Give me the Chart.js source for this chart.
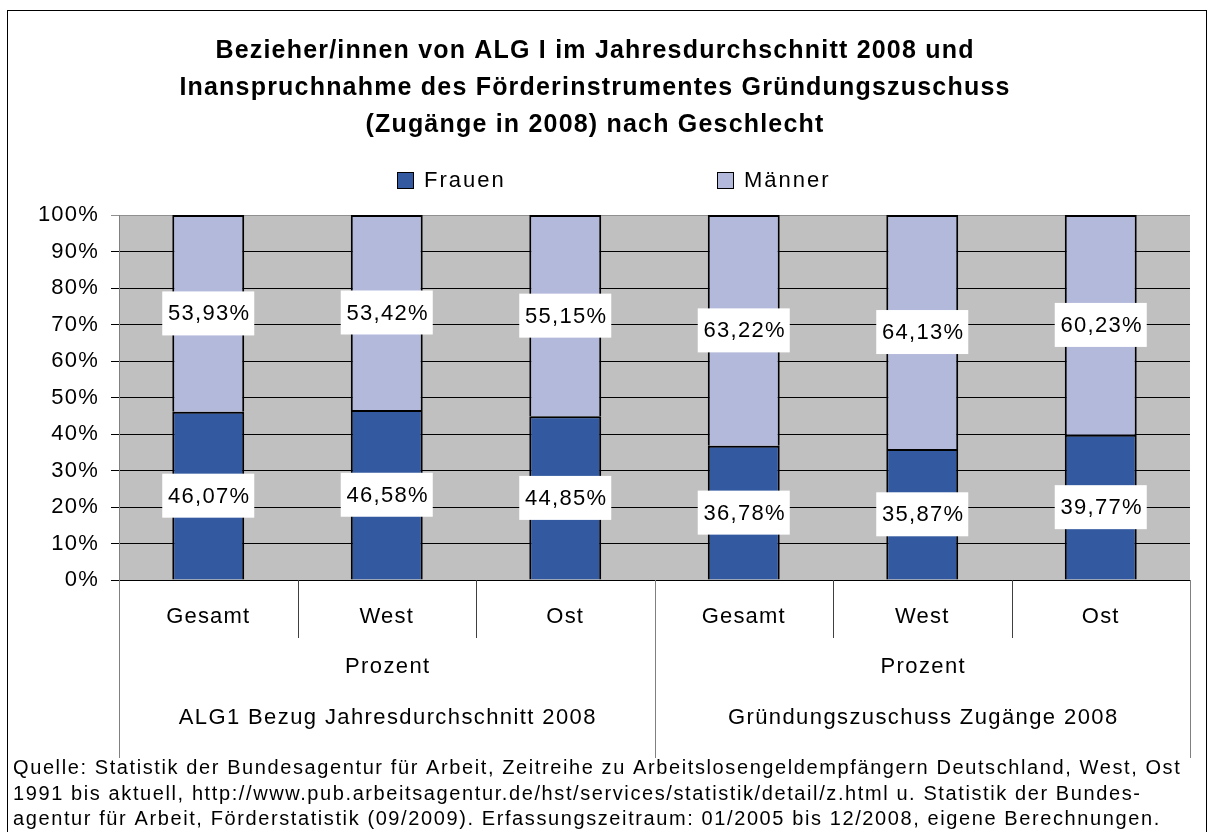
<!DOCTYPE html>
<html>
<head>
<meta charset="utf-8">
<title>ALG I und Gründungszuschuss nach Geschlecht</title>
<script src="https://cdn.jsdelivr.net/npm/chart.js@4"></script>
<style>
  html, body { margin: 0; padding: 0; background: #fff; }
  body { width: 1208px; height: 832px; overflow: hidden; position: relative; }
  #chart { position: absolute; left: 0; top: 0; }
  #frame { position: absolute; left: 7px; top: 10px; width: 1198px; height: 840px;
           border: 1px solid #000; pointer-events: none; }
</style>
</head>
<body>
<canvas id="chart" width="1208" height="832"></canvas>
<div id="frame"></div>
<script>
// data
const categories = ['Gesamt', 'West', 'Ost', 'Gesamt', 'West', 'Ost'];
const groupLabels = ['ALG1 Bezug Jahresdurchschnitt 2008', 'Gründungszuschuss Zugänge 2008'];
const groupUnit = 'Prozent';
const frauen = [46.07, 46.58, 44.85, 36.78, 35.87, 39.77];
const maenner = [53.93, 53.42, 55.15, 63.22, 64.13, 60.23];
const yMax = 100;
const yStep = 10;

const titleLines = [
    'Bezieher/innen von ALG I im Jahresdurchschnitt 2008 und',
    'Inanspruchnahme des Förderinstrumentes Gründungszuschuss',
    '(Zugänge in 2008) nach Geschlecht'
];
const sourceLines = [
    'Quelle: Statistik der Bundesagentur für Arbeit, Zeitreihe zu Arbeitslosengeldempfängern Deutschland, West, Ost',
    '1991 bis aktuell, http://www.pub.arbeitsagentur.de/hst/services/statistik/detail/z.html u. Statistik der Bundes-',
    'agentur für Arbeit, Förderstatistik (09/2009). Erfassungszeitraum: 01/2005 bis 12/2008, eigene Berechnungen.'
];

const FONT = '"Liberation Sans", Arial, sans-serif';
Chart.defaults.font.family = FONT;
Chart.defaults.color = '#000';

const fmtPct = v => v.toFixed(2).replace('.', ',') + '%';

// grey plot background, value boxes, category grouping, legend and source
const decor = {
    id: 'decor',
    beforeDraw(chart) {
        const { ctx, chartArea: a } = chart;
        // the original (Excel) text runs a bit wider than Liberation Sans
        ctx.letterSpacing = '1.2px';
        ctx.save();
        ctx.fillStyle = '#c0c0c0';
        ctx.fillRect(a.left, a.top, a.right - a.left, a.bottom - a.top);
        ctx.restore();
    },
    afterDatasetsDraw(chart) {
        const { ctx } = chart;
        ctx.save();
        ctx.font = '22px ' + FONT;
        ctx.letterSpacing = '1.3px';
        ctx.textAlign = 'center';
        ctx.textBaseline = 'middle';
        chart.data.datasets.forEach((ds, di) => {
            chart.getDatasetMeta(di).data.forEach((bar, i) => {
                const cy = (bar.y + bar.base) / 2;
                ctx.fillStyle = '#fff';
                ctx.fillRect(bar.x - 46, cy - 22, 92, 44);
                ctx.fillStyle = '#000';
                ctx.fillText(fmtPct(ds.data[i]), bar.x + 1, cy + 1);
            });
        });
        ctx.restore();
    },
    afterDraw(chart) {
        const { ctx, chartArea: a } = chart;
        const x = chart.scales.x;
        const cw = (a.right - a.left) / categories.length;
        ctx.save();
        // separators under the axis
        for (let k = 0; k <= categories.length; k++) {
            const px = Math.round(a.left + k * cw) + 0.5;
            const outer = k % 3 === 0;
            ctx.strokeStyle = outer ? '#808080' : '#404040';
            ctx.lineWidth = 1;
            ctx.beginPath();
            ctx.moveTo(px, a.bottom);
            ctx.lineTo(px, outer ? 758 : 638);
            ctx.stroke();
        }
        ctx.font = '22px ' + FONT;
        ctx.letterSpacing = '1.4px';
        ctx.fillStyle = '#000';
        ctx.textAlign = 'center';
        ctx.textBaseline = 'middle';
        groupLabels.forEach((g, gi) => {
            const cx = (x.getPixelForValue(gi * 3) + x.getPixelForValue(gi * 3 + 2)) / 2;
            ctx.fillText(groupUnit, cx + 1, 667);
            ctx.fillText(g, cx + 1, 718);
        });

        // legend
        const legendX = [397, 717];
        chart.data.datasets.forEach((ds, di) => {
            const lx = legendX[di];
            ctx.fillStyle = ds.backgroundColor;
            ctx.fillRect(lx, 172, 16, 16);
            ctx.strokeStyle = '#000';
            ctx.lineWidth = 1;
            ctx.strokeRect(lx + 0.5, 172.5, 16, 16);
            ctx.fillStyle = '#000';
            ctx.textAlign = 'left';
            ctx.letterSpacing = '2px';
            ctx.fillText(ds.label, lx + 27, 181);
        });

        // source note
        ctx.font = '20px ' + FONT;
        ctx.letterSpacing = '1.6px';
        ctx.textAlign = 'left';
        [768, 794, 819].forEach((y, i) => ctx.fillText(sourceLines[i], 13, y, 1180));
        ctx.restore();
    }
};

new Chart(document.getElementById('chart'), {
    type: 'bar',
    data: {
        labels: categories,
        datasets: [
            {
                label: 'Frauen',
                data: frauen,
                backgroundColor: '#335aa1',
                borderColor: '#000',
                borderWidth: 2,
                barPercentage: 0.403,
                categoryPercentage: 1
            },
            {
                label: 'Männer',
                data: maenner,
                backgroundColor: '#b3b9db',
                borderColor: '#000',
                borderWidth: 2,
                barPercentage: 0.403,
                categoryPercentage: 1
            }
        ]
    },
    options: {
        responsive: false,
        animation: false,
        devicePixelRatio: 1,
        layout: { padding: { left: 0, right: 18, top: 0, bottom: 0 } },
        plugins: {
            legend: { display: false },
            tooltip: { enabled: false },
            title: {
                display: true,
                text: titleLines,
                color: '#000',
                font: { size: 25, weight: 'bold', lineHeight: 37 / 25 },
                padding: { top: 33, bottom: 71 }
            }
        },
        scales: {
            x: {
                stacked: true,
                grid: { display: false, drawTicks: false },
                border: { color: '#000' },
                ticks: { font: { size: 22 }, color: '#000', padding: 24, maxRotation: 0, autoSkip: false },
                afterFit: s => { s.height = 252; }
            },
            y: {
                stacked: true,
                min: 0,
                max: yMax,
                ticks: {
                    stepSize: yStep,
                    font: { size: 22 },
                    color: '#000',
                    padding: 12,
                    callback: v => v + '%'
                },
                grid: {
                    color: c => (c.tick && c.tick.value === yMax ? '#909090' : '#000'),
                    tickLength: 8
                },
                border: { color: '#808080' },
                afterFit: s => { s.width = 119; }
            }
        }
    },
    plugins: [decor]
});
</script>
</body>
</html>
